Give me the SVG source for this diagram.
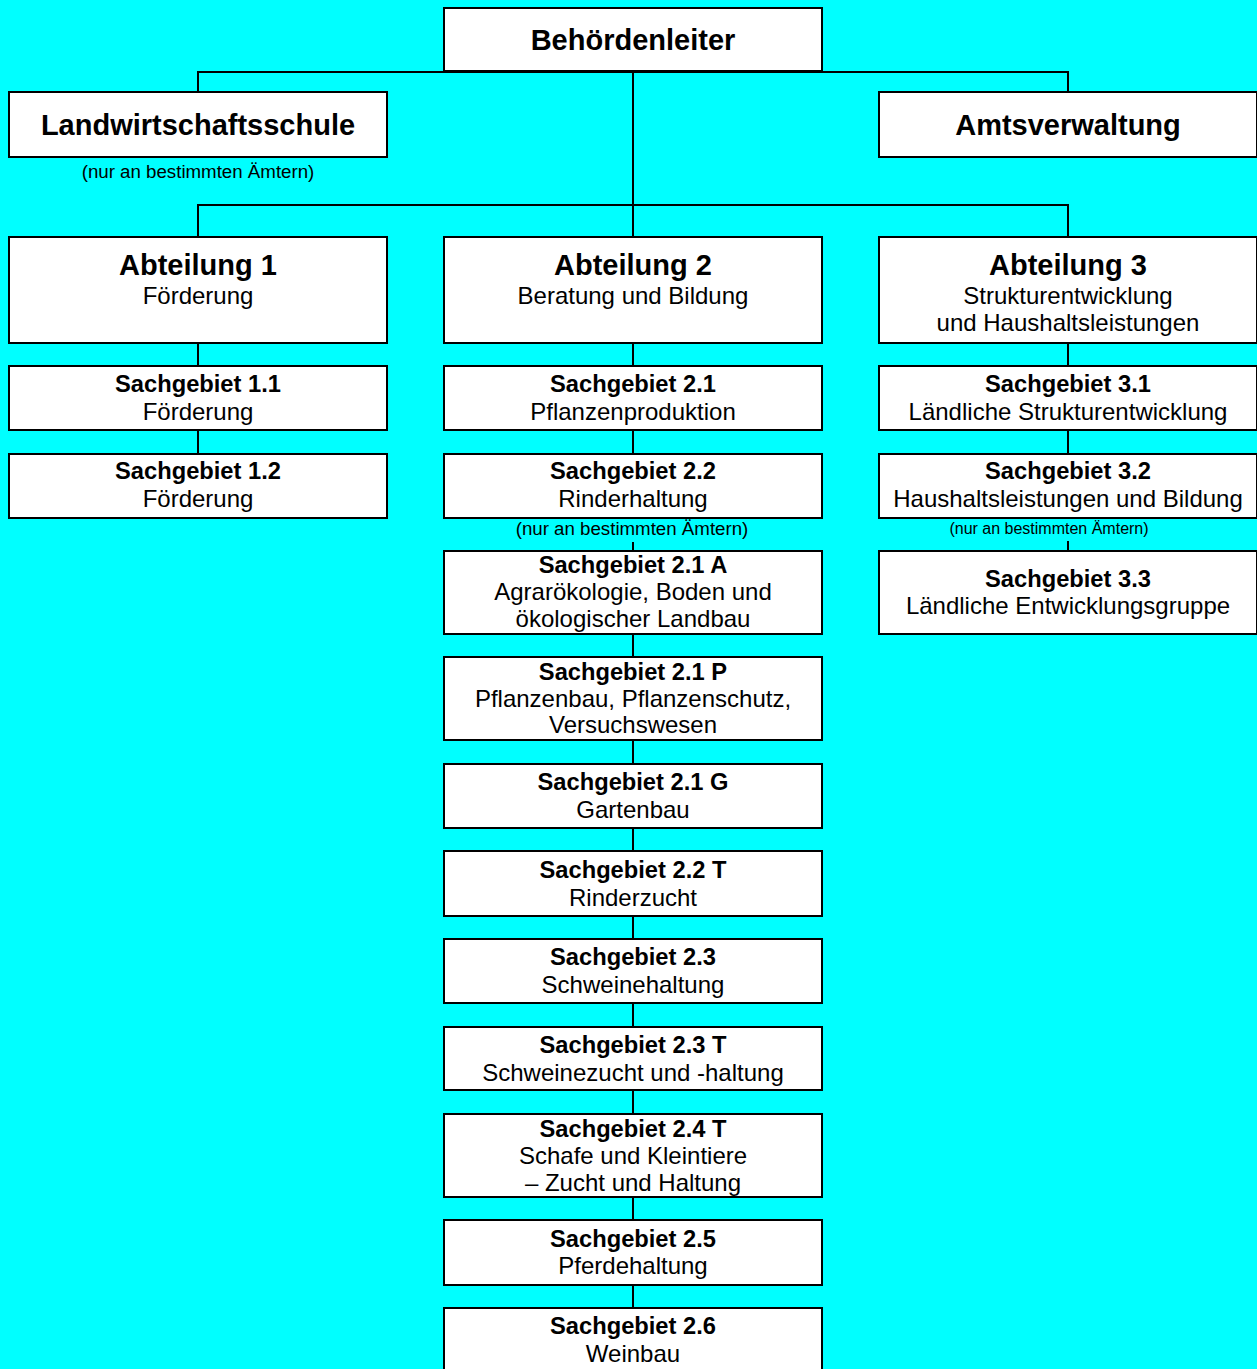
<svg xmlns="http://www.w3.org/2000/svg" width="1257" height="1369" viewBox="0 0 1257 1369">
<style>
.box{fill:#fff;stroke:#000;stroke-width:2}
.c{stroke:#000;stroke-width:2;fill:none}
text{font-family:"Liberation Sans",Arial,sans-serif;text-anchor:middle;fill:#000}
.h1{font-size:29px;font-weight:bold}
.h2{font-size:29px;font-weight:bold}
.b{font-size:23.7px;font-weight:bold}
.r{font-size:24px}
.n{font-size:18.7px}
.ns{font-size:16px}
</style>
<rect x="0" y="0" width="1257" height="1369" fill="#00FFFF"/>
<g id="connectors">
<path class="c" d="M198 92V72H1068V92M633 72V205M198 237V205H1068V237M633 205V237"/>
<path class="c" d="M198 343V366M198 430V454"/>
<path class="c" d="M633 343V366M633 430V454M633 542V551M633 634V657M633 740V764M633 828V851M633 916V939M633 1003V1027M633 1090V1114M633 1197V1220M633 1285V1308"/>
<path class="c" d="M1068 343V366M1068 430V454M1068 541V551"/>
</g>
<g id="behoerdenleiter"><rect class="box" x="444" y="8" width="378" height="63"/><text class="h1" x="633" y="50">Behördenleiter</text></g>
<g id="landwirtschaftsschule"><rect class="box" x="9" y="92" width="378" height="65"/><text class="h1" x="198" y="135">Landwirtschaftsschule</text><text class="n" x="198" y="178">(nur an bestimmten Ämtern)</text></g>
<g id="amtsverwaltung"><rect class="box" x="879" y="92" width="378" height="65"/><text class="h1" x="1068" y="135">Amtsverwaltung</text></g>
<g id="abt1"><rect class="box" x="9" y="237" width="378" height="106"/><text class="h2" x="198" y="275">Abteilung 1</text><text class="r" x="198" y="304">Förderung</text></g>
<g id="abt2"><rect class="box" x="444" y="237" width="378" height="106"/><text class="h2" x="633" y="275">Abteilung 2</text><text class="r" x="633" y="304">Beratung und Bildung</text></g>
<g id="abt3"><rect class="box" x="879" y="237" width="378" height="106"/><text class="h2" x="1068" y="275">Abteilung 3</text><text class="r" x="1068" y="304">Strukturentwicklung</text><text class="r" x="1068" y="331">und Haushaltsleistungen</text></g>
<g id="sg11"><rect class="box" x="9" y="366" width="378" height="64"/><text class="b" x="198" y="392">Sachgebiet 1.1</text><text class="r" x="198" y="420">Förderung</text></g>
<g id="sg12"><rect class="box" x="9" y="454" width="378" height="64"/><text class="b" x="198" y="479">Sachgebiet 1.2</text><text class="r" x="198" y="507">Förderung</text></g>
<g id="sg21"><rect class="box" x="444" y="366" width="378" height="64"/><text class="b" x="633" y="392">Sachgebiet 2.1</text><text class="r" x="633" y="420">Pflanzenproduktion</text></g>
<g id="sg22"><rect class="box" x="444" y="454" width="378" height="64"/><text class="b" x="633" y="479">Sachgebiet 2.2</text><text class="r" x="633" y="507">Rinderhaltung</text><text class="n" x="632" y="535">(nur an bestimmten Ämtern)</text></g>
<g id="sg21a"><rect class="box" x="444" y="551" width="378" height="83"/><text class="b" x="633" y="573">Sachgebiet 2.1 A</text><text class="r" x="633" y="600">Agrarökologie, Boden und</text><text class="r" x="633" y="627">ökologischer Landbau</text></g>
<g id="sg21p"><rect class="box" x="444" y="657" width="378" height="83"/><text class="b" x="633" y="680">Sachgebiet 2.1 P</text><text class="r" x="633" y="707">Pflanzenbau, Pflanzenschutz,</text><text class="r" x="633" y="733">Versuchswesen</text></g>
<g id="sg21g"><rect class="box" x="444" y="764" width="378" height="64"/><text class="b" x="633" y="790">Sachgebiet 2.1 G</text><text class="r" x="633" y="818">Gartenbau</text></g>
<g id="sg22t"><rect class="box" x="444" y="851" width="378" height="65"/><text class="b" x="633" y="878">Sachgebiet 2.2 T</text><text class="r" x="633" y="906">Rinderzucht</text></g>
<g id="sg23"><rect class="box" x="444" y="939" width="378" height="64"/><text class="b" x="633" y="965">Sachgebiet 2.3</text><text class="r" x="633" y="993">Schweinehaltung</text></g>
<g id="sg23t"><rect class="box" x="444" y="1027" width="378" height="63"/><text class="b" x="633" y="1053">Sachgebiet 2.3 T</text><text class="r" x="633" y="1081">Schweinezucht und -haltung</text></g>
<g id="sg24t"><rect class="box" x="444" y="1114" width="378" height="83"/><text class="b" x="633" y="1137">Sachgebiet 2.4 T</text><text class="r" x="633" y="1164">Schafe und Kleintiere</text><text class="r" x="633" y="1191">– Zucht und Haltung</text></g>
<g id="sg25"><rect class="box" x="444" y="1220" width="378" height="65"/><text class="b" x="633" y="1247">Sachgebiet 2.5</text><text class="r" x="633" y="1274">Pferdehaltung</text></g>
<g id="sg26"><rect class="box" x="444" y="1308" width="378" height="70"/><text class="b" x="633" y="1334">Sachgebiet 2.6</text><text class="r" x="633" y="1362">Weinbau</text></g>
<g id="sg31"><rect class="box" x="879" y="366" width="378" height="64"/><text class="b" x="1068" y="392">Sachgebiet 3.1</text><text class="r" x="1068" y="420">Ländliche Strukturentwicklung</text></g>
<g id="sg32"><rect class="box" x="879" y="454" width="378" height="64"/><text class="b" x="1068" y="479">Sachgebiet 3.2</text><text class="r" x="1068" y="507">Haushaltsleistungen und Bildung</text><text class="ns" x="1049" y="534">(nur an bestimmten Ämtern)</text></g>
<g id="sg33"><rect class="box" x="879" y="551" width="378" height="83"/><text class="b" x="1068" y="587">Sachgebiet 3.3</text><text class="r" x="1068" y="614">Ländliche Entwicklungsgruppe</text></g>
</svg>
